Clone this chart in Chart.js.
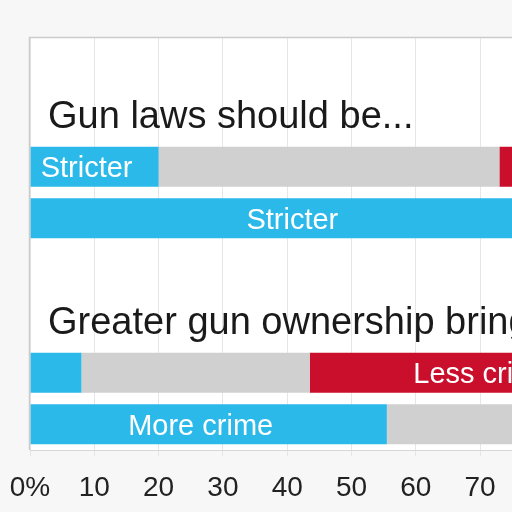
<!DOCTYPE html>
<html>
<head>
<meta charset="utf-8">
<script src="https://cdn.jsdelivr.net/npm/chart.js@4"></script>
<style>
  html, body { margin: 0; padding: 0; background: #f7f7f7; overflow: hidden; }
  canvas { display: block; }
</style>
</head>
<body>
<canvas id="myChart" width="700" height="512"></canvas>
<script>
// rows: spacer, heading, two bars, spacer, heading, two bars
var categories = ['', 'Gun laws should be...', 'Group A', 'Group B', '', 'Greater gun ownership brings...', 'Group A', 'Group B'];
var headingRows = [1, 5];

var blueValues = [null, null, 20, 84, null, null, 8, 55.5];
var grayValues = [null, null, 53, 13, null, null, 35.5, 32.5];
var redValues  = [null, null, 27, 3, null, null, 56.5, 12];

var blueLabels = ['', '', 'Stricter', 'Stricter', '', '', '', 'More crime'];
var grayLabels = ['', '', '', '', '', '', '', ''];
var redLabels  = ['', '', 'Less strict', '', '', '', 'Less crime', ''];

var xTicks = [0, 10, 20, 30, 40, 50, 60, 70, 80, 90, 100];

var FONT = '"Liberation Sans", Arial, sans-serif';

// Panel background and frame
var panelPlugin = {
    id: 'panel',
    beforeDraw: function(chart) {
        var ctx = chart.ctx, a = chart.chartArea;
        ctx.save();
        ctx.fillStyle = '#f7f7f7';
        ctx.fillRect(0, 0, chart.width, chart.height);
        ctx.fillStyle = '#ffffff';
        ctx.fillRect(a.left, a.top, a.right - a.left, a.bottom - a.top);
        ctx.restore();
    },
    afterDraw: function(chart) {
        var ctx = chart.ctx, a = chart.chartArea;
        ctx.save();
        ctx.strokeStyle = '#cccccc';
        ctx.lineWidth = 1.5;
        ctx.beginPath();
        ctx.moveTo(a.left - 0.5, a.bottom);
        ctx.lineTo(a.left - 0.5, a.top - 0.5);
        ctx.lineTo(chart.width, a.top - 0.5);
        ctx.stroke();
        ctx.restore();
    }
};

// Headings and labels inside the bars
var textPlugin = {
    id: 'texts',
    afterDatasetsDraw: function(chart) {
        var ctx = chart.ctx;
        var y = chart.scales.y;
        ctx.save();
        ctx.fillStyle = '#1a1a1a';
        ctx.font = '38px ' + FONT;
        ctx.textAlign = 'left';
        ctx.textBaseline = 'alphabetic';
        headingRows.forEach(function(i) {
            ctx.fillText(categories[i], chart.chartArea.left + 18, y.getPixelForValue(i) + 13);
        });

        ctx.font = '29px ' + FONT;
        ctx.fillStyle = '#ffffff';
        ctx.textAlign = 'center';
        var labelSets = [blueLabels, grayLabels, redLabels];
        chart.data.datasets.forEach(function(ds, d) {
            var meta = chart.getDatasetMeta(d);
            meta.data.forEach(function(bar, i) {
                var txt = labelSets[d][i];
                if (!txt || ds.data[i] == null) return;
                var left = Math.min(bar.x, bar.base);
                var right = Math.max(bar.x, bar.base);
                ctx.fillText(txt, (left + right) / 2 - 8, bar.y + 10.5);
            });
        });
        ctx.restore();
    }
};

var ctx = document.getElementById('myChart').getContext('2d');
var myChart = new Chart(ctx, {
    type: 'bar',
    data: {
        labels: categories,
        datasets: [
            { label: 'Blue', data: blueValues, backgroundColor: '#2bb9e9' },
            { label: 'Gray', data: grayValues, backgroundColor: '#d0d0d0' },
            { label: 'Red', data: redValues, backgroundColor: '#c90f2b' }
        ]
    },
    options: {
        indexAxis: 'y',
        responsive: false,
        devicePixelRatio: 1,
        animation: false,
        layout: { padding: { left: 30, top: 38, right: 27, bottom: 0 } },
        datasets: { bar: { categoryPercentage: 1, barPercentage: 0.78, borderWidth: 0 } },
        plugins: {
            legend: { display: false },
            tooltip: { enabled: false }
        },
        scales: {
            x: {
                stacked: true,
                min: 0,
                max: 100,
                afterBuildTicks: function(axis) {
                    axis.ticks = xTicks.map(function(v) { return { value: v }; });
                },
                afterFit: function(axis) {
                    axis.height = 62;
                    axis.paddingLeft = 0;
                    axis.paddingRight = 0;
                },
                grid: { color: '#e6e6e6', lineWidth: 1, tickLength: 6, drawOnChartArea: true },
                border: { display: true, color: '#d6d6d6', width: 1 },
                ticks: {
                    padding: 15,
                    color: '#222222',
                    font: { family: FONT, size: 28 },
                    maxRotation: 0,
                    callback: function(v) { return v === 0 ? '0%' : v; }
                }
            },
            y: {
                stacked: true,
                display: false
            }
        }
    },
    plugins: [panelPlugin, textPlugin]
});
</script>
</body>
</html>
